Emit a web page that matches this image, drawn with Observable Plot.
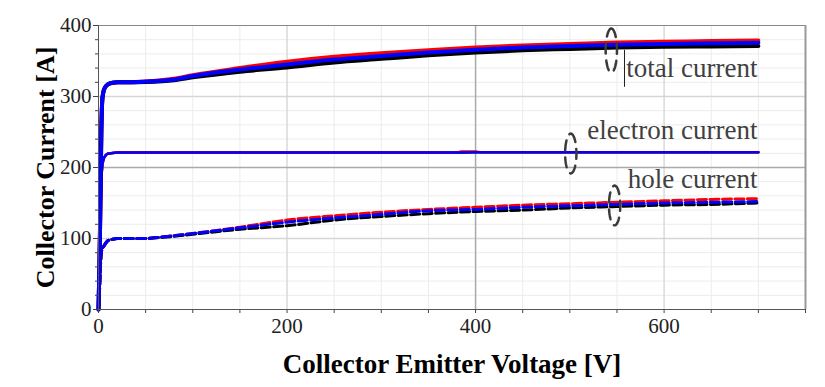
<!DOCTYPE html>
<html>
<head>
<meta charset="utf-8">
<script src="https://cdn.jsdelivr.net/npm/d3@7"></script>
<script src="https://cdn.jsdelivr.net/npm/@observablehq/plot@0.6"></script>
<style>
  html, body { margin: 0; padding: 0; background: #fff; }
  #chart { width: 825px; height: 387px; }
</style>
</head>
<body>
<div id="chart"></div>
<script>
// ---- Data ----
// Total current (solid, thick)
const totalV     = [0, 1, 2, 3, 4, 5, 7, 10, 15, 20, 30, 50, 80, 100, 150, 200, 250, 300, 350, 400, 450, 500, 550, 600, 650, 700];
const totalRed   = [0, 60, 150, 250, 295, 305, 313, 317, 319.5, 320, 320, 321, 325, 330, 340, 349, 356, 361, 365, 369, 372, 374, 376, 377, 378, 379];
const totalBlue  = [0, 60, 150, 250, 295, 305, 313, 317, 319.5, 320, 320, 321, 324, 329, 338, 345, 352, 357, 362, 366, 369, 371, 373, 374, 375, 375.6];
const totalBlack = [0, 60, 150, 250, 295, 305, 313, 317, 319.5, 320, 320, 320.5, 323, 327, 335, 341, 348, 353, 358, 362, 365, 367, 369, 370, 370.5, 371];

// Electron current (solid, thin)
const elecV      = [0, 1, 2, 3, 4, 5, 6, 8, 10, 15, 20, 50, 100, 200, 300, 380, 385, 400, 405, 500, 600, 700];
const elecBlue   = [0, 50, 130, 185, 203, 210, 214, 218, 219.5, 220.5, 221, 221, 221, 221, 221.2, 221.3, 221.3, 221.4, 221.4, 221.5, 221.5, 221.5];
const elecRed    = [0, 50, 130, 185, 203, 210, 214, 218, 219.5, 220.5, 221, 221, 221, 221, 221.2, 221.3, 222.6, 222.6, 221.4, 221.5, 221.5, 221.5];
const elecBlack  = [0, 50, 130, 185, 203, 210, 214, 218, 219.5, 220.5, 221, 221, 221, 221, 221.2, 221.3, 221.3, 221.4, 221.4, 221.5, 221.5, 221.5];

// Hole current (dashed)
const holeV      = [0, 1, 2, 3, 4, 5, 6, 8, 10, 15, 20, 30, 50, 60, 80, 100, 150, 200, 250, 300, 350, 400, 450, 500, 550, 600, 650, 700];
const holeRed    = [0, 25, 60, 80, 86, 88, 90, 94, 97, 99, 100, 100, 100, 101, 104, 107, 116, 126, 132, 137, 141, 144, 147, 149, 151, 153, 155, 156];
const holeBlue   = [0, 25, 60, 80, 86, 88, 90, 94, 97, 99, 100, 100, 100, 101, 104, 107, 115, 123, 129, 134, 139, 141, 144, 146, 148, 150, 151, 152];
const holeBlack  = [0, 25, 60, 80, 86, 88, 90, 94, 97, 99, 100, 100, 100, 101, 103, 106, 113, 118, 126, 131, 135, 138, 140, 143, 145, 147, 148, 150];

// Annotations
const labelTexts = ["total current", "electron current", "hole current"];
const labelV     = [699, 699, 699];
const labelI     = [327, 239.5, 170.5];
const ellipseV   = [544, 501, 547.5];
const ellipseI   = [364.8, 219.7, 146.5];
const ellipseRV  = [6, 6, 6];
const ellipseRI  = [31, 28, 28];

// Axis ticks
const xTickLabels = [0, 200, 400, 600];
const yTickLabels = [0, 100, 200, 300, 400];

// ---- Build tables ----
const series = (xs, ys, name) => xs.map((v, i) => ({V: v, I: ys[i], s: name}));
const ellipseRows = [];
ellipseV.forEach((cv, k) => {
  d3.range(0, 73).forEach(j => {
    const a = (j / 72) * 2 * Math.PI - Math.PI / 2;
    ellipseRows.push({k, V: cv + ellipseRV[k] * Math.cos(a), I: ellipseI[k] - ellipseRI[k] * Math.sin(a)});
  });
});
const labels = labelTexts.map((t, i) => ({t, V: labelV[i], I: labelI[i]}));

const serif = "'Liberation Serif', 'Times New Roman', serif";
const dash = "9,3.5";
const lineOpts = {x: "V", y: "I", curve: "monotone-x"};

const chart = Plot.plot({
  width: 825,
  height: 387,
  marginLeft: 98,
  marginRight: 20,
  marginTop: 25,
  marginBottom: 78,
  style: {fontFamily: serif, fontSize: "21px", background: "#fff", overflow: "visible"},
  x: {domain: [0, 750]},
  y: {domain: [0, 400]},
  marks: [
    // grid
    Plot.gridX(d3.range(0, 751, 50), {stroke: "#ececec", strokeOpacity: 1}),
    Plot.gridY(d3.range(0, 401, 20), {stroke: "#ececec", strokeOpacity: 1}),
    Plot.gridY([100, 300], {stroke: "#d6d6d6", strokeOpacity: 1, strokeWidth: 1.5}),
    Plot.gridX([200, 600], {stroke: "#d0d0d0", strokeOpacity: 1}),
    Plot.gridY([200], {stroke: "#aaa", strokeOpacity: 1, strokeWidth: 1.5}),
    Plot.gridX([400], {stroke: "#aaa", strokeOpacity: 1, strokeWidth: 1.5}),
    // frame
    Plot.ruleY([400], {stroke: "#888"}),
    Plot.ruleX([750], {stroke: "#999", strokeWidth: 2}),
    // hole current (dashed)
    Plot.line(series(holeV, holeRed, "r"), {...lineOpts, stroke: "#ff0000", strokeWidth: 3, strokeDasharray: dash}),
    Plot.line(series(holeV, holeBlack, "k"), {...lineOpts, stroke: "#000", strokeWidth: 3, strokeDasharray: dash}),
    Plot.line(series(holeV, holeBlue, "b"), {...lineOpts, stroke: "#0000ff", strokeWidth: 3, strokeDasharray: dash}),
    // electron current
    Plot.line(series(elecV, elecBlack, "k"), {x: "V", y: "I", stroke: "#000", strokeWidth: 2.5}),
    Plot.line(series(elecV, elecRed, "r"), {x: "V", y: "I", stroke: "#ff0000", strokeWidth: 2.5}),
    Plot.line(series(elecV, elecBlue, "b"), {x: "V", y: "I", stroke: "#0000ff", strokeWidth: 2.5}),
    // total current
    Plot.line(series(totalV, totalRed, "r"), {...lineOpts, stroke: "#ff0000", strokeWidth: 4}),
    Plot.line(series(totalV, totalBlack, "k"), {...lineOpts, stroke: "#000", strokeWidth: 4}),
    Plot.line(series(totalV, totalBlue, "b"), {...lineOpts, stroke: "#0000ff", strokeWidth: 4}),
    // annotation ellipses
    Plot.line(ellipseRows, {x: "V", y: "I", z: "k", stroke: "#3a3a3a", strokeWidth: 2.5, strokeDasharray: "10,7", curve: "linear"}),
    // cursor line artifact
    Plot.ruleX([558], {y1: 313, y2: 365, stroke: "#222", strokeWidth: 1}),
    // labels
    Plot.text(labels, {x: "V", y: "I", text: "t", textAnchor: "end", lineAnchor: "bottom", fontSize: 27, fill: "#404040", fontFamily: serif}),
    // axes: ticks
    Plot.axisX(d3.range(0, 751, 50), {tickSize: 4, stroke: "#444", tickFormat: () => "", label: null}),
    Plot.axisY(d3.range(0, 401, 20), {tickSize: 3, stroke: "#444", tickFormat: () => "", label: null}),
    Plot.axisY(yTickLabels, {tickSize: 5, stroke: "#444", tickFormat: () => "", label: null}),
    Plot.ruleX([0], {stroke: "#555"}),
    Plot.ruleY([0], {stroke: "#555"}),
    // tick labels
    Plot.text(xTickLabels, {x: d => d, frameAnchor: "bottom", dy: 17, text: d => String(d), fontSize: 21, fill: "#222", lineAnchor: "middle", fontFamily: serif}),
    Plot.text(yTickLabels, {y: d => d, frameAnchor: "left", dx: -7, text: d => String(d), textAnchor: "end", fontSize: 21, fill: "#222", lineAnchor: "middle", fontFamily: serif}),
    // axis titles
    Plot.text(["Collector Current [A]"], {frameAnchor: "left", dx: -53, rotate: -90, textAnchor: "middle", fontSize: 26, fontWeight: "bold", fill: "#000", lineAnchor: "middle", fontFamily: serif}),
    Plot.text(["Collector Emitter Voltage [V]"], {frameAnchor: "bottom", dy: 55, textAnchor: "middle", fontSize: 27, fontWeight: "bold", fill: "#000", lineAnchor: "middle", fontFamily: serif})
  ]
});
document.getElementById("chart").appendChild(chart);
</script>
</body>
</html>
